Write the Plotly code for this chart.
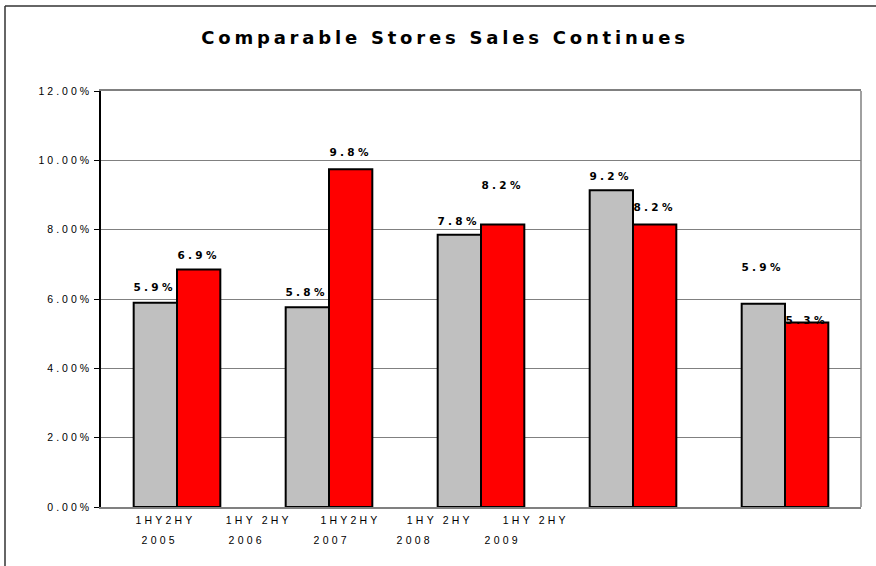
import plotly.graph_objects as go

# ---- data ----
groups = ["G1", "G2", "G3", "G4", "G5"]
first_half = [5.89, 5.76, 7.85, 9.14, 5.86]      # % (grey bars)
second_half = [6.85, 9.74, 8.15, 8.15, 5.32]     # % (red bars)
first_labels = ["5.9%", "5.8%", "7.8%", "9.2%", "5.9%"]
second_labels = ["6.9%", "9.8%", "8.2%", "8.2%", "5.3%"]
half_ticks = ["1HY2HY", "1HY 2HY", "1HY2HY", "1HY 2HY", "1HY 2HY"]
year_ticks = ["2005", "2006", "2007", "2008", "2009"]
y_ticks = [0, 2, 4, 6, 8, 10, 12]

# ---- layout constants (pixels) ----
W, H = 876, 566
L, R, T, B = 101, 15, 91, 59
PW, PH = W - L - R, H - T - B
BARGAP = 0.43
FONT = "Liberation Sans, Arial, sans-serif"
BOLD_FONT = "DejaVu Sans, Verdana, sans-serif"

first_dy = [16, 15, 14, 14, 37]
second_dy = [15, 17, 39, 17, 3]
half_px = [165, 259, 350, 440, 536]
year_px = [160, 247, 332, 415, 503]

fig = go.Figure()
fig.add_trace(go.Bar(x=list(range(len(groups))), y=[v / 100 for v in first_half], name="1HY",
                     marker=dict(color="#C0C0C0", line=dict(color="#000000", width=2))))
fig.add_trace(go.Bar(x=list(range(len(groups))), y=[v / 100 for v in second_half], name="2HY",
                     marker=dict(color="#FF0000", line=dict(color="#000000", width=2))))

off = (1 - BARGAP) / 4
ann = []
for i in range(len(groups)):
    ann.append(dict(x=i - off, y=first_half[i] / 100, text=first_labels[i], showarrow=False,
                    yshift=first_dy[i], xanchor="center", yanchor="middle",
                    font=dict(family=BOLD_FONT, size=10.5, color="#000000", weight="bold")))
    ann.append(dict(x=i + off, y=second_half[i] / 100, text=second_labels[i], showarrow=False,
                    yshift=second_dy[i], xanchor="center", yanchor="middle",
                    font=dict(family=BOLD_FONT, size=10.5, color="#000000", weight="bold")))
for i in range(len(half_ticks)):
    ann.append(dict(xref="paper", yref="paper", x=(half_px[i] - L) / PW, y=-13 / PH,
                    text=half_ticks[i], showarrow=False, xanchor="center", yanchor="middle",
                    font=dict(family=FONT, size=10.5, color="#000000")))
    ann.append(dict(xref="paper", yref="paper", x=(year_px[i] - L) / PW, y=-33 / PH,
                    text=year_ticks[i], showarrow=False, xanchor="center", yanchor="middle",
                    font=dict(family=FONT, size=10.5, color="#000000")))

shapes = [
    # right frame line of plot area
    dict(type="line", xref="paper", yref="paper", x0=1, x1=1, y0=0, y1=1,
         line=dict(color="#808080", width=1.5)),
    # outer chart border (top and left visible)
    dict(type="line", xref="paper", yref="paper", x0=(5 - L) / PW, x1=(W + 10 - L) / PW,
         y0=(PH + T - 6) / PH, y1=(PH + T - 6) / PH, line=dict(color="#333333", width=1.5)),
    dict(type="line", xref="paper", yref="paper", x0=(5 - L) / PW, x1=(5 - L) / PW,
         y0=(PH + T - 6) / PH, y1=-(B + 10) / PH, line=dict(color="#333333", width=1.5)),
]

fig.update_layout(
    width=W, height=H,
    margin=dict(l=L, r=R, t=T, b=B, autoexpand=False),
    paper_bgcolor="#FFFFFF", plot_bgcolor="#FFFFFF",
    barmode="group", bargap=BARGAP, bargroupgap=0,
    showlegend=False,
    title=dict(text="<b>Comparable Stores Sales Continues</b>", x=445 / W, xanchor="center",
               y=1 - 38 / H, yanchor="middle",
               font=dict(family=BOLD_FONT, size=18, color="#000000")),
    annotations=ann, shapes=shapes,
    xaxis=dict(range=[-0.5, len(groups) - 0.5], showticklabels=False, ticks="",
               showgrid=False, zeroline=False, showline=True, mirror=True,
               linecolor="#808080", linewidth=1.5),
    yaxis=dict(range=[0, 0.12], tickvals=[v / 100 for v in y_ticks], tickformat=".2%",
               showgrid=True, gridcolor="#808080", gridwidth=1, zeroline=False,
               showline=True, linecolor="#000000", linewidth=1.5,
               ticks="outside", ticklen=5, tickcolor="#000000", ticklabelstandoff=0,
               tickfont=dict(family=FONT, size=10.5, color="#000000")),
)

post = """
document.body.style.margin = '0';
document.body.style.overflow = 'hidden';
var gd = document.querySelector('.plotly-graph-div');
function sp(sel, v){ gd.querySelectorAll(sel).forEach(function(e){ e.style.letterSpacing = v; }); }
sp('.gtitle', '3.8px');
sp('.ytick text', '3px');
gd.querySelectorAll('.annotation-text').forEach(function(e){
  var t = e.textContent;
  e.style.letterSpacing = (t.indexOf('%') >= 0) ? '3.3px' : '3.2px';
});
"""
fig.write_html("out.html", post_script=post, config={"displayModeBar": False})
